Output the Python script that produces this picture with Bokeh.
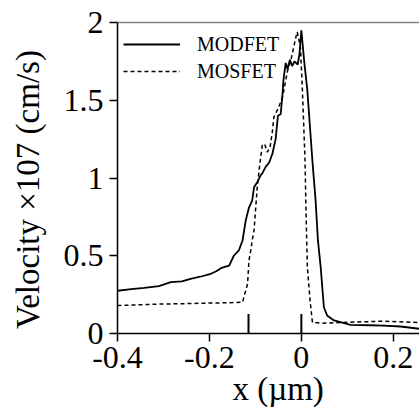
from bokeh.plotting import figure
from bokeh.models import Range1d, LinearAxis, Legend, LegendItem, FixedTicker
from bokeh.embed import file_html
from bokeh.resources import INLINE

# MODFET (solid)
modfet_x = [-0.400, -0.370, -0.342, -0.310, -0.284, -0.260, -0.241, -0.220, -0.197, -0.185,
            -0.175, -0.165, -0.157, -0.147, -0.136, -0.128, -0.121, -0.114, -0.107, -0.103,
            -0.096, -0.088, -0.085, -0.078, -0.070, -0.063, -0.056, -0.051, -0.045, -0.041,
            -0.039, -0.034, -0.030, -0.025, -0.020, -0.015, -0.008, -0.004, 0.000, 0.006,
            0.013, 0.017, 0.024, 0.031, 0.036, 0.042, 0.049, 0.056, 0.071, 0.085,
            0.107, 0.150, 0.179, 0.216, 0.257]
modfet_y = [0.275, 0.285, 0.294, 0.305, 0.330, 0.335, 0.352, 0.365, 0.384, 0.400,
            0.420, 0.430, 0.437, 0.500, 0.534, 0.598, 0.727, 0.810, 0.855, 0.940,
            0.973, 1.020, 1.030, 1.070, 1.100, 1.156, 1.250, 1.400, 1.410, 1.540,
            1.630, 1.740, 1.700, 1.760, 1.720, 1.750, 1.730, 1.800, 1.950, 1.755,
            1.563, 1.400, 1.110, 0.855, 0.600, 0.427, 0.169, 0.116, 0.084, 0.073,
            0.055, 0.053, 0.051, 0.045, 0.030]

# MOSFET (dashed)
mosfet_x = [-0.400, -0.350, -0.300, -0.270, -0.210, -0.160, -0.128, -0.121, -0.117, -0.114,
            -0.110, -0.107, -0.103, -0.096, -0.090, -0.085, -0.080, -0.074, -0.068, -0.063,
            -0.060, -0.050, -0.041, -0.030, -0.023, -0.012, -0.009, -0.002, 0.002, 0.004,
            0.008, 0.010, 0.013, 0.019, 0.024, 0.042, 0.107, 0.179, 0.257]
mosfet_y = [0.180, 0.185, 0.190, 0.191, 0.195, 0.198, 0.201, 0.277, 0.320, 0.470,
            0.534, 0.598, 0.662, 0.940, 1.100, 1.210, 1.220, 1.166, 1.200, 1.300,
            1.390, 1.450, 1.520, 1.690, 1.755, 1.905, 1.940, 1.840, 1.580, 1.430,
            1.110, 0.800, 0.430, 0.210, 0.073, 0.066, 0.073, 0.079, 0.070]

# gate edge markers
marker_x = [-0.115, 0.0]
marker_top = [0.125, 0.125]

x_ticks = [-0.4, -0.2, 0, 0.2]
y_ticks = [0, 0.5, 1, 1.5, 2]

FONT = "Liberation Serif"

p = figure(width=419, height=412, output_backend="svg", toolbar_location=None,
           x_range=Range1d(-0.4, 0.257), y_range=Range1d(0, 2),
           min_border_left=117, min_border_top=22, min_border_bottom=79, min_border_right=0)
p.outline_line_color = None
p.grid.visible = False
p.background_fill_color = "white"

r1 = p.line(modfet_x, modfet_y, line_color="black", line_width=1.8)
r2 = p.line(mosfet_x, mosfet_y, line_color="black", line_width=1.5, line_dash="4 3")
p.segment(x0=marker_x, y0=[0, 0], x1=marker_x, y1=marker_top, line_color="black", line_width=2)

for ax in (p.xaxis[0], p.yaxis[0]):
    ax.axis_line_color = "black"
    ax.axis_line_width = 1.5
    ax.major_tick_line_color = "black"
    ax.major_tick_line_width = 1.5
    ax.major_tick_in = 0
    ax.major_tick_out = 8
    ax.minor_tick_line_color = None
    ax.major_label_text_font = FONT
    ax.major_label_text_font_size = "32px"
    ax.major_label_text_color = "black"
    ax.axis_label_text_font = FONT
    ax.axis_label_text_font_style = "normal"
    ax.axis_label_text_color = "black"

p.xaxis[0].ticker = FixedTicker(ticks=x_ticks)
p.yaxis[0].ticker = FixedTicker(ticks=y_ticks)
p.xaxis[0].major_label_overrides = {-0.4: "-0.4", -0.2: "-0.2", 0: "0", 0.2: "0.2"}
p.yaxis[0].major_label_overrides = {0: "0", 0.5: "0.5", 1: "1", 1.5: "1.5", 2: "2"}
p.xaxis[0].major_label_standoff = 5
p.yaxis[0].major_label_standoff = 6

p.xaxis[0].axis_label = "\u00a0\u00a0\u200ax (\u00b5m)"
p.xaxis[0].axis_label_text_font_size = "33px"
p.xaxis[0].axis_label_standoff = 0
p.yaxis[0].axis_label = "Velocity \u00d7107 (cm/s)\u00a0\u00a0\u2009"
p.yaxis[0].axis_label_text_font_size = "33px"
p.yaxis[0].axis_label_standoff = 15

top = LinearAxis(axis_line_color="gray", axis_line_width=1.5, major_tick_line_color=None,
                 minor_tick_line_color=None, major_label_text_font_size="0px",
                 major_label_text_color=None)
p.add_layout(top, "above")

legend = Legend(items=[LegendItem(label="MODFET", renderers=[r1]),
                       LegendItem(label="MOSFET", renderers=[r2])],
                location=(6, 250), border_line_color=None, background_fill_alpha=0,
                label_text_font=FONT, label_text_font_size="20px", label_text_color="black",
                glyph_width=57, glyph_height=24, label_height=24, spacing=3,
                label_standoff=17, padding=2, margin=0)
p.add_layout(legend, "center")

open("out.html", "w").write(file_html(p, INLINE))
